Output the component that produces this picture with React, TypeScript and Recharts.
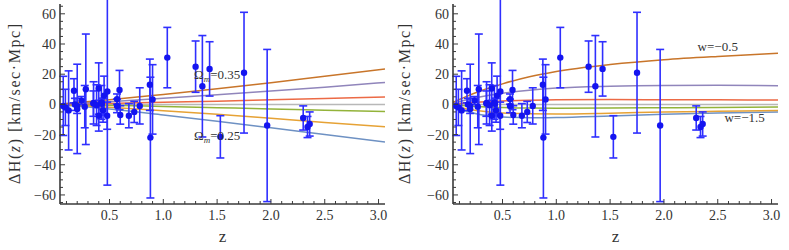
import React from 'react';
import { ComposedChart, Line, Scatter, XAxis, YAxis, ErrorBar, ReferenceDot } from 'recharts';

// Observed ΔH(z) points (same in both panels)
const zObs = [0.07, 0.09, 0.12, 0.17, 0.179, 0.199, 0.2, 0.24, 0.27, 0.28, 0.35, 0.352, 0.38, 0.4, 0.4004, 0.4247, 0.43, 0.44, 0.4497, 0.4783, 0.48, 0.57, 0.57, 0.593, 0.6, 0.68, 0.73, 0.781, 0.875, 0.88, 0.9, 1.037, 1.3, 1.363, 1.43, 1.53, 1.75, 1.965, 2.3, 2.34, 2.36];
const dhObs = [-1, -2, -4, 9, 0, -1, -3, 2.5, -1.5, 10, 0.5, 1, -0.5, 10.5, -7.5, 1.3, 0.4, -4, 5.8, -7.5, 8.5, 3.5, -1, 9.5, -7, -7.5, -5, -1, 13, -22, 3.3, 31, 25, 12, 23.5, -21.5, 21, -14, -9, -15, -13];
const errObs = [19.6, 12, 26.2, 8, 4, 5, 29.6, 2.7, 14, 36.6, 8.4, 14, 13.5, 17, 10.2, 11.2, 3.7, 7.8, 12.9, 9, 62, 3.4, 4.5, 13, 6.1, 8, 7, 12, 17, 40, 23, 20, 17, 33.6, 18, 14, 40, 50.4, 8, 7, 8];

// Left panel: Omega_m curves
const zLeft = [0.04, 0.5, 1.0, 1.5, 2.0, 2.5, 3.06];
const om035 = [0.2, 3.0, 6.6, 10.4, 14.4, 18.7, 23.5];
const om033 = [0.1, 1.8, 4.0, 6.3, 8.8, 11.4, 14.5];
const om031 = [0, 0.6, 1.4, 2.1, 3.0, 3.9, 4.9];
const om030 = [0, 0, 0, 0, 0, 0, 0];
const om029 = [0, -0.6, -1.4, -2.2, -3.0, -3.9, -4.7];
const om027 = [-0.1, -1.9, -4.2, -6.6, -9.2, -12.0, -14.8];
const om025 = [-0.3, -3.1, -7.0, -11.1, -15.5, -20.0, -25.0];

// Right panel: w curves
const zRight = [0.04, 0.15, 0.3, 0.5, 0.75, 1.0, 1.5, 2.0, 2.5, 3.06];
const wm05 = [1.3, 4.8, 9.0, 13.6, 18.3, 21.8, 26.4, 29.6, 31.8, 33.8];
const wm07 = [0.8, 2.8, 5.0, 7.4, 9.4, 10.8, 12.0, 12.5, 12.6, 12.4];
const wm09 = [0.3, 0.9, 1.6, 2.3, 2.8, 3.1, 3.2, 3.1, 3.0, 2.9];
const wm10 = [0, 0, 0, 0, 0, 0, 0, 0, 0, 0];
const wm11 = [-0.3, -0.9, -1.5, -2.1, -2.4, -2.5, -2.4, -2.2, -2.0, -1.8];
const wm13 = [-0.8, -2.7, -4.4, -5.7, -6.2, -6.3, -5.8, -5.1, -4.6, -4.1];
const wm15 = [-1.4, -4.2, -6.8, -8.3, -8.9, -8.7, -7.7, -6.6, -5.7, -5.0];

const xTicks = [0.1, 0.2, 0.3, 0.4, 0.5, 0.6, 0.7, 0.8, 0.9, 1.0, 1.1, 1.2, 1.3, 1.4, 1.5, 1.6, 1.7, 1.8, 1.9, 2.0, 2.1, 2.2, 2.3, 2.4, 2.5, 2.6, 2.7, 2.8, 2.9, 3.0];
const yTicks = [-65, -60, -55, -50, -45, -40, -35, -30, -25, -20, -15, -10, -5, 0, 5, 10, 15, 20, 25, 30, 35, 40, 45, 50, 55, 60, 65];

const COLORS = {
  darkOrange: '#c8752a',
  purple: '#9085bb',
  red: '#ec6a45',
  gray: '#b8b8b8',
  green: '#93b33a',
  orange: '#e6a235',
  blue: '#6e91c3',
};

const serif = 'Liberation Serif, Times New Roman, Times, serif';
const FRAME = '#3a3a3a';
const TEXT = '#333';

const obs = zObs.map((z, i) => ({ x: z, y: dhObs[i], err: errObs[i] }));
const mk = (zs: number[], vs: number[]) => zs.map((z, i) => ({ x: z, y: vs[i] }));

const isMajorX = (v: number) => Math.abs(v * 2 - Math.round(v * 2)) < 1e-6;
const isMajorY = (v: number) => Math.abs(v % 20) < 1e-6;
const fmtY = (v: number) => (v < 0 ? '\u2212' + Math.abs(v) : String(v));

const txtStyle = { fontFamily: serif };

const BottomTick = (p: any) => {
  const v = p.payload.value;
  const major = isMajorX(v);
  return (
    <g>
      <line x1={p.x} x2={p.x} y1={p.y} y2={p.y - (major ? 5 : 3)} stroke={FRAME} strokeWidth={1} />
      {major && (
        <text x={p.x} y={p.y + 16} textAnchor="middle" style={txtStyle} fontSize={14} fill={TEXT}>
          {v.toFixed(1)}
        </text>
      )}
    </g>
  );
};
const TopTick = (p: any) => {
  const major = isMajorX(p.payload.value);
  return <line x1={p.x} x2={p.x} y1={p.y} y2={p.y + (major ? 5 : 3)} stroke={FRAME} strokeWidth={1} />;
};
const LeftTick = (p: any) => {
  const v = p.payload.value;
  const major = isMajorY(v);
  return (
    <g>
      <line x1={p.x} x2={p.x + (major ? 5 : 3)} y1={p.y} y2={p.y} stroke={FRAME} strokeWidth={1} />
      {major && (
        <text x={p.x - 4} y={p.y + 5} textAnchor="end" style={txtStyle} fontSize={14} fill={TEXT}>
          {fmtY(v)}
        </text>
      )}
    </g>
  );
};
const RightTick = (p: any) => {
  const major = isMajorY(p.payload.value);
  return <line x1={p.x} x2={p.x - (major ? 5 : 3)} y1={p.y} y2={p.y} stroke={FRAME} strokeWidth={1} />;
};

const Dot = (p: any) => <circle cx={p.cx} cy={p.cy} r={3.2} fill="#1414f0" />;

type LineSpec = { data: { x: number; y: number }[]; color: string };
type Note = { x: number; y: number; kind: 'om' | 'w'; text: string };

const Panel = ({ lines, notes, labelX }: { lines: LineSpec[]; notes: Note[]; labelX: number }) => (
  <ComposedChart width={396} height={250} margin={{ top: 4, right: 11, left: 0, bottom: 0 }}>
    <XAxis
      xAxisId="b"
      type="number"
      dataKey="x"
      domain={[0.04, 3.06]}
      allowDataOverflow
      ticks={xTicks}
      interval={0}
      tickSize={0}
      tickMargin={0}
      tickLine={false}
      tick={<BottomTick />}
      axisLine={{ stroke: FRAME, strokeWidth: 1.6 }}
      height={46}
      label={{
        content: (lp: any) => (
          <text
            x={lp.viewBox.x + lp.viewBox.width / 2}
            y={lp.viewBox.y + 37.5}
            textAnchor="middle"
            style={txtStyle}
            fontSize={17}
            fill={TEXT}
          >
            z
          </text>
        ),
      }}
    />
    <XAxis
      xAxisId="t"
      orientation="top"
      type="number"
      domain={[0.04, 3.06]}
      allowDataOverflow
      ticks={xTicks}
      interval={0}
      tickSize={0}
      tickMargin={0}
      tickLine={false}
      tick={<TopTick />}
      axisLine={{ stroke: FRAME, strokeWidth: 1.6 }}
      height={0}
    />
    <YAxis
      yAxisId="l"
      type="number"
      dataKey="y"
      domain={[-66, 66.5]}
      allowDataOverflow
      ticks={yTicks}
      interval={0}
      tickSize={0}
      tickMargin={0}
      tickLine={false}
      tick={<LeftTick />}
      axisLine={{ stroke: FRAME, strokeWidth: 1.6 }}
      width={60}
      label={{
        content: (lp: any) => {
          const cx = labelX;
          const cy = lp.viewBox.y + lp.viewBox.height / 2;
          return (
            <text
              x={cx}
              y={cy}
              transform={`rotate(-90 ${cx} ${cy})`}
              textAnchor="middle"
              style={txtStyle}
              fontSize={16}
              fill={TEXT}
              textLength={160}
              lengthAdjust="spacing"
            >
              ΔH(<tspan fontStyle="italic">z</tspan>) [km/sec·Mpc]
            </text>
          );
        },
      }}
    />
    <YAxis
      yAxisId="r"
      orientation="right"
      type="number"
      domain={[-66, 66.5]}
      allowDataOverflow
      ticks={yTicks}
      interval={0}
      tickSize={0}
      tickMargin={0}
      tickLine={false}
      tick={<RightTick />}
      axisLine={{ stroke: FRAME, strokeWidth: 1.6 }}
      width={0}
    />
    {lines.map((l, i) => (
      <Line
        key={i}
        xAxisId="b"
        yAxisId="l"
        data={l.data}
        dataKey="y"
        type="monotone"
        stroke={l.color}
        strokeWidth={1.5}
        dot={false}
        activeDot={false}
        isAnimationActive={false}
      />
    ))}
    <Scatter xAxisId="b" yAxisId="l" data={obs} dataKey="y" shape={<Dot />} isAnimationActive={false}>
      <ErrorBar dataKey="err" direction="y" width={4} stroke="#2f2fff" strokeWidth={1.6} />
    </Scatter>
    {notes.map((n, i) => (
      <ReferenceDot
        key={'n' + i}
        xAxisId="b"
        yAxisId="l"
        x={n.x}
        y={n.y}
        r={0}
        shape={(sp: any) =>
          n.kind === 'om' ? (
            <text x={sp.cx} y={sp.cy} textAnchor="middle" style={txtStyle} fontSize={13} fill={TEXT}>
              Ω<tspan fontSize={9} fontStyle="italic" dy={3}>m</tspan>
              <tspan dy={-3}>{n.text}</tspan>
            </text>
          ) : (
            <text x={sp.cx} y={sp.cy} textAnchor="middle" style={txtStyle} fontSize={13} fill={TEXT}>
              {n.text}
            </text>
          )
        }
      />
    ))}
  </ComposedChart>
);

const leftLines: LineSpec[] = [
  { data: mk(zLeft, om030), color: COLORS.gray },
  { data: mk(zLeft, om025), color: COLORS.blue },
  { data: mk(zLeft, om027), color: COLORS.orange },
  { data: mk(zLeft, om029), color: COLORS.green },
  { data: mk(zLeft, om031), color: COLORS.red },
  { data: mk(zLeft, om033), color: COLORS.purple },
  { data: mk(zLeft, om035), color: COLORS.darkOrange },
];
const rightLines: LineSpec[] = [
  { data: mk(zRight, wm10), color: COLORS.gray },
  { data: mk(zRight, wm15), color: COLORS.blue },
  { data: mk(zRight, wm13), color: COLORS.orange },
  { data: mk(zRight, wm11), color: COLORS.green },
  { data: mk(zRight, wm09), color: COLORS.red },
  { data: mk(zRight, wm07), color: COLORS.purple },
  { data: mk(zRight, wm05), color: COLORS.darkOrange },
];

const leftNotes: Note[] = [
  { x: 1.5, y: 17, kind: 'om', text: '=0.35' },
  { x: 1.5, y: -23.3, kind: 'om', text: '=0.25' },
];
const rightNotes: Note[] = [
  { x: 2.5, y: 35.5, kind: 'w', text: 'w=\u22120.5' },
  { x: 2.75, y: -12, kind: 'w', text: 'w=\u22121.5' },
];

export default function App() {
  return (
    <div style={{ position: 'absolute', left: 0, top: 0, width: 789, height: 250, background: '#fff', overflow: 'hidden' }}>
      <div style={{ position: 'absolute', left: 0, top: 0 }}>
        <Panel lines={leftLines} notes={leftNotes} labelX={20} />
      </div>
      <div style={{ position: 'absolute', left: 393, top: 0 }}>
        <Panel lines={rightLines} notes={rightNotes} labelX={17} />
      </div>
    </div>
  );
}
